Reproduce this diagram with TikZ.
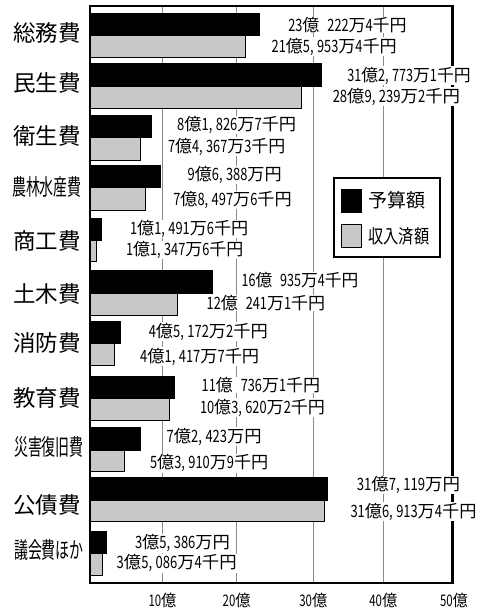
\documentclass[tikz,border=0pt]{standalone}
\usepackage{fontspec}
\usepackage{graphicx}
\setmainfont{Noto Sans CJK JP}
\newcommand\dg[1]{\scalebox{0.75}[1]{#1}}
\newcommand\cs{,\hspace{4.6pt}}
\newcommand\gp{\hspace{8pt}}
\newcommand\fw[2]{\resizebox{#1pt}{\height}{#2}}
\newcommand\nar[2]{\scalebox{#1}[1]{#2}}
\definecolor{barGrey}{HTML}{C8C8C8}
\definecolor{gridGrey}{HTML}{8A8A8A}
\tikzset{
  budget/.style={fill=black,draw=black,line width=0.8pt},
  received/.style={fill=barGrey,draw=black,line width=0.8pt},
  gridln/.style={draw=gridGrey,line width=0.9pt},
  catlbl/.style={anchor=east,inner sep=0pt,font=\fontsize{22.5}{24}\selectfont},
  vallbl/.style={inner sep=0.6pt,fill=white,font=\fontsize{17}{19}\selectfont},
  axlbl/.style={inner sep=0pt,font=\fontsize{16}{18}\selectfont},
  leglbl/.style={anchor=west,inner sep=0pt,font=\fontsize{19}{21}\selectfont},
}
\begin{document}
\begin{tikzpicture}[x=1pt,y=-1pt]
\useasboundingbox (0,0) rectangle (478,608);
% grid lines
\foreach \gx in {162.7,236.7,313.3,383.3}
  \draw[gridln] (\gx,6) -- (\gx,583);
% bars
\foreach \t/\m/\b/\xa/\xb in {
  13/35/57/259.3/245,
  63/86/108/321.7/301.7,
  115/137.5/160/151/140,
  165/187.5/210/160/145.7,
  218/240/261.7/101/96.7,
  270/293.3/315/212.7/177.3,
  321.7/343.3/365/120.7/114.3,
  376/398.3/420.7/174.3/169.3,
  427.7/450/471.7/140/124,
  477/500/521.7/327.7/324,
  531/553/575/106.7/102.7}{
  \draw[budget] (90,\t) rectangle (\xa,\m);
  \draw[received] (90,\m) rectangle (\xb,\b);
}
% legend
\draw[fill=white,draw=black,line width=1.8pt] (334.3,178.3) rectangle (440,257.3);
\draw[budget] (341,189.3) rectangle (361.7,212.3);
\draw[received] (341,224.7) rectangle (361.7,247.3);
\node[leglbl] (lg1) at (368.3,200) {予算額};
\node[leglbl] (lg2) at (368.3,236) {\nar{0.8}{収入済額}};
% frame
\draw[line width=2pt] (90,6) -- (452.7,6);
\draw[line width=2pt] (90,5) -- (90,584);
\draw[line width=2.2pt] (89,583) -- (453.7,583);
\draw[line width=2.6pt] (452.7,5) -- (452.7,584);
% category labels
\node[catlbl] (c0) at (81,33) {総務費};
\node[catlbl] (c1) at (81,83) {民生費};
\node[catlbl] (c2) at (81,135.5) {衛生費};
\node[catlbl] (c3) at (82,186.5) {\nar{0.62}{農林水産費}};
\node[catlbl] (c4) at (81,241) {商工費};
\node[catlbl] (c5) at (81,294) {土木費};
\node[catlbl] (c6) at (81,342.5) {消防費};
\node[catlbl] (c7) at (81,398) {教育費};
\node[catlbl] (c8) at (84,447) {\nar{0.62}{災害復旧費}};
\node[catlbl] (c9) at (81,505) {公債費};
\node[catlbl] (c10) at (84,550) {\nar{0.62}{議会費ほか}};
% value labels
\node[vallbl] (v0a) at (347.5,25) {\fw{118.4}{\dg{23}億\gp\dg{222}万\dg{4}千円}};
\node[vallbl] (v0b) at (334.2,46.7) {\fw{125}{\dg{21}億\dg{5\cs953}万\dg{4}千円}};
\node[vallbl] (v1a) at (409,75.8) {\fw{123.4}{\dg{31}億\dg{2\cs773}万\dg{1}千円}};
\node[vallbl] (v1b) at (396.4,96.7) {\fw{127.3}{\dg{28}億\dg{9\cs239}万\dg{2}千円}};
\node[vallbl] (v2a) at (236.7,125) {\fw{119}{\dg{8}億\dg{1\cs826}万\dg{7}千円}};
\node[vallbl] (v2b) at (226.7,146.7) {\fw{117}{\dg{7}億\dg{4\cs367}万\dg{3}千円}};
\node[vallbl] (v3a) at (234.7,175) {\fw{94}{\dg{9}億\dg{6\cs388}万円}};
\node[vallbl] (v3b) at (232.5,200) {\fw{118.4}{\dg{7}億\dg{8\cs497}万\dg{6}千円}};
\node[vallbl] (v4a) at (189.2,229) {\fw{118.3}{\dg{1}億\dg{1\cs491}万\dg{6}千円}};
\node[vallbl] (v4b) at (184.7,250) {\fw{117.3}{\dg{1}億\dg{1\cs347}万\dg{6}千円}};
\node[vallbl] (v5a) at (300,280) {\fw{116.6}{\dg{16}億\gp\dg{935}万\dg{4}千円}};
\node[vallbl] (v5b) at (265.9,303) {\fw{118.3}{\dg{12}億\gp\dg{241}万\dg{1}千円}};
\node[vallbl] (v6a) at (208.3,331.7) {\fw{119}{\dg{4}億\dg{5\cs172}万\dg{2}千円}};
\node[vallbl] (v6b) at (199.7,356.7) {\fw{119}{\dg{4}億\dg{1\cs417}万\dg{7}千円}};
\node[vallbl] (v7a) at (260.9,385) {\fw{118.3}{\dg{11}億\gp\dg{736}万\dg{1}千円}};
\node[vallbl] (v7b) at (262.5,407.7) {\fw{125}{\dg{10}億\dg{3\cs620}万\dg{2}千円}};
\node[vallbl] (v8a) at (214.2,436.7) {\fw{95}{\dg{7}億\dg{2\cs423}万円}};
\node[vallbl] (v8b) at (209.2,463.3) {\fw{118.3}{\dg{5}億\dg{3\cs910}万\dg{9}千円}};
\node[vallbl] (v9a) at (408.4,485) {\fw{103.3}{\dg{31}億\dg{7\cs119}万円}};
\node[vallbl] (v9b) at (413.5,511.7) {\fw{126}{\dg{31}億\dg{6\cs913}万\dg{4}千円}};
\node[vallbl] (v10a) at (182.5,543.3) {\fw{95}{\dg{3}億\dg{5\cs386}万円}};
\node[vallbl] (v10b) at (176.7,563.3) {\fw{120}{\dg{3}億\dg{5\cs086}万\dg{4}千円}};
% axis labels
\node[axlbl] (a10) at (162.5,600) {\fw{28}{\dg{10}億}};
\node[axlbl] (a20) at (236.7,600) {\fw{28}{\dg{20}億}};
\node[axlbl] (a30) at (313.3,600) {\fw{28}{\dg{30}億}};
\node[axlbl] (a40) at (383.3,600) {\fw{28}{\dg{40}億}};
\node[axlbl] (a50) at (454,600) {\fw{28}{\dg{50}億}};
\end{tikzpicture}
\end{document}
